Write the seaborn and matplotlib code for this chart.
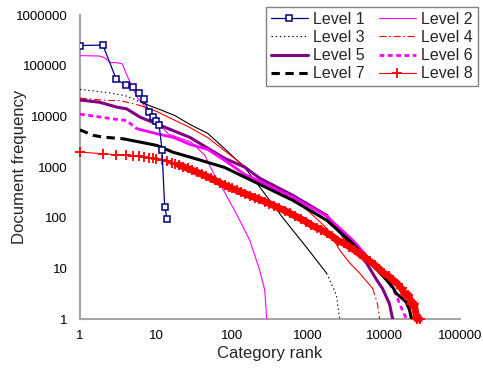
import matplotlib
matplotlib.use("Agg")
import matplotlib.pyplot as plt
import seaborn as sns
from matplotlib.ticker import FixedLocator, FixedFormatter, NullLocator

sns.set_style("white")
plt.rcParams["font.family"] = ["Liberation Sans", "DejaVu Sans"]
plt.rcParams["lines.scale_dashes"] = False

# ---------------- data ----------------
level_names = ["Level 1", "Level 2", "Level 3", "Level 4",
               "Level 5", "Level 6", "Level 7", "Level 8"]

level1_rank = [1, 2, 3, 4, 5, 6, 7, 8, 9, 10, 11, 12, 13, 14]
level1_freq = [250000, 255000, 54000, 41000, 38000, 28500, 21500, 12400,
               9600, 8000, 6600, 2200, 165, 95]

level2_rank = [1, 1.8, 2.1, 2.5, 3, 3.6, 4, 5, 5.8, 6.7, 8.3, 10.6, 14.5,
               29, 44, 59, 80, 99, 114, 171, 232, 270, 286]
level2_freq = [158000, 155000, 144000, 115000, 115000, 109000, 73000, 35000,
               22400, 17900, 11400, 7500, 4500, 3100, 1700, 680, 320, 176,
               120, 36, 9, 3.7, 1]

level3_rank = [1, 2.3, 3.9, 6.5, 10.3, 17.7, 28, 48, 80, 147, 232, 465,
               955, 1760, 2360, 2610]
level3_freq = [34000, 29400, 25700, 18700, 14300, 10400, 6900, 4600, 2300,
               980, 400, 100, 26, 8, 3, 1]

level4_rank = [1, 2.3, 3.4, 6.2, 10.3, 13, 28, 48, 147, 232, 630, 1050,
               1760, 2610, 3500, 4800, 7100, 8200, 8750]
level4_freq = [22900, 20500, 20500, 16300, 12400, 10400, 6000, 3800, 1030,
               570, 252, 128, 62, 23, 13, 8, 4, 2, 1]

level5_rank = [1, 1.8, 3.1, 4.1, 6.2, 10.3, 16.7, 28, 80, 147, 232, 630,
               1760, 3050, 3870, 5900, 7950, 9560, 11800, 13000]
level5_freq = [21000, 19000, 15100, 14100, 9600, 7050, 5250, 3830, 1480,
               995, 600, 276, 111, 39, 27, 12.7, 6, 4, 2, 1]

level6_rank = [1, 1.35, 2.7, 4.1, 5.6, 10.3, 17, 28, 48, 80, 147, 232, 630,
               1760, 3870, 7080, 11800, 14500, 16000, 19800]
level6_freq = [11000, 10400, 8900, 8260, 5700, 4530, 3830, 2790, 2220, 1350,
               715, 521, 252, 107, 36, 13, 5, 3, 2, 1]

level7_rank = [1, 1.5, 2, 3.7, 6.2, 10.3, 16.7, 28, 80, 147, 232, 630, 1760,
               3870, 7080, 10800, 13000, 14500, 19400, 21700, 23000]
level7_freq = [5400, 4200, 3900, 3600, 3100, 2660, 1960, 1570, 980, 630, 454,
               220, 89, 31, 11.6, 5.9, 4.3, 3.2, 2.2, 1.5, 1]

level8_rank = [1, 2, 3, 4, 5, 6, 7, 8, 9, 10, 12, 14, 16, 18, 20, 23, 26, 30,
               35, 40, 46, 53, 60, 70, 80, 90, 100, 115, 130, 150, 170, 200,
               230, 270, 310, 360, 420, 500, 580, 680, 800, 930, 1100, 1300,
               1500, 1800, 2100, 2500, 3000, 3500, 4100, 4800, 5600, 6500,
               7500, 8600, 10000, 11500, 13000, 15000, 17000, 19000, 21000,
               23000, 25000, 27000, 29400]
level8_freq = [1965, 1830, 1745, 1690, 1655, 1620, 1545, 1510, 1475, 1445,
               1360, 1290, 1220, 1160, 1095, 1013, 938, 861, 783, 718, 656,
               594, 542, 484, 438, 400, 378, 346, 322, 295, 273, 248, 230,
               207, 190, 171, 153, 137, 122, 108, 95, 84, 72, 63, 58, 49,
               42.5, 35, 31, 26.7, 22.8, 19, 16.4, 13.9, 11.8, 9.9, 8, 7, 6,
               5, 4, 3, 3, 2, 2, 1, 1]

x_ticks = [1, 10, 100, 1000, 10000, 100000]
x_tick_labels = ["1", "10", "100", "1000", "10000", "100000"]
y_ticks = [1, 10, 100, 1000, 10000, 100000, 1000000]
y_tick_labels = ["1", "10", "100", "1000", "10000", "100000", "1000000"]

# ---------------- figure ----------------
W, H = 483, 373
fig = plt.figure(figsize=(W / 100, H / 100), dpi=100)
ax = fig.add_axes([80 / W, 1 - 319 / H, 380 / W, 304 / H])
ax.set_xscale("log")
ax.set_yscale("log")

DOT = (0, (1, 2))
DASHDOT = (0, (5, 2, 1.2, 2))
DASH6 = (0, (3.5, 2.5))
DASH7 = (0, (6, 4))


def draw(ranks, freqs, segments, label, color, lw, zorder, **kw):
    """segments: list of (start, end, linestyle[, linewidth]) slices."""
    first = None
    for seg in segments:
        s, e, ls = seg[:3]
        width = seg[3] if len(seg) > 3 else lw
        sns.lineplot(x=ranks[s:e], y=freqs[s:e], ax=ax, color=color,
                     linewidth=width, linestyle=ls, sort=False,
                     estimator=None, legend=False, zorder=zorder, **kw)
        line = ax.lines[-1]
        if first is None:
            first = line
            line.set_label(label)
    return first


h = {}
h[1] = draw(level1_rank, level1_freq, [(0, None, "-")], level_names[0],
            "#000080", 0.9, 10, marker="s", markersize=5,
            markerfacecolor="white", markeredgecolor="#000080",
            markeredgewidth=1.1)
h[2] = draw(level2_rank, level2_freq, [(0, None, "-")], level_names[1],
            "#FF00FF", 0.8, 3)
h[3] = draw(level3_rank, level3_freq,
            [(0, 4, DOT), (3, 14, "-"), (13, None, DOT)], level_names[2],
            "black", 0.8, 4)
h[4] = draw(level4_rank, level4_freq,
            [(0, 4, DASHDOT), (3, 17, "-"), (16, None, DASHDOT)],
            level_names[3], "#FF0000", 0.8, 5)
h[5] = draw(level5_rank, level5_freq, [(0, None, "-")], level_names[4],
            "#800080", 2.2, 6)
h[6] = draw(level6_rank, level6_freq,
            [(0, 5, DASH6), (4, 17, "-"), (16, None, DASH6)], level_names[5],
            "#FF00FF", 2.0, 7)
h[7] = draw(level7_rank, level7_freq,
            [(0, 4, DASH7), (3, None, "-")], level_names[6],
            "black", 2.2, 8)
# dense "+" markers in the reference merge into a thick red band
h[8] = draw(level8_rank, level8_freq,
            [(0, 15, "-", 0.8), (14, None, "-", 5.0)], level_names[7],
            "#FF0000", 0.8, 9, marker="+", markersize=7.5,
            markeredgecolor="#FF0000", markeredgewidth=1.3, clip_on=False)

# ---------------- axes styling ----------------
ax.set_xlim(1, 100000)
ax.set_ylim(1, 1000000)
ax.xaxis.set_major_locator(FixedLocator(x_ticks))
ax.xaxis.set_major_formatter(FixedFormatter(x_tick_labels))
ax.xaxis.set_minor_locator(NullLocator())
ax.yaxis.set_major_locator(FixedLocator(y_ticks))
ax.yaxis.set_major_formatter(FixedFormatter(y_tick_labels))
ax.yaxis.set_minor_locator(NullLocator())

axis_gray = "#a6a6a6"
for side in ["top", "right"]:
    ax.spines[side].set_visible(False)
for side in ["left", "bottom"]:
    ax.spines[side].set_color(axis_gray)
    ax.spines[side].set_linewidth(1.5)

ax.tick_params(axis="both", which="major", direction="in", length=4,
               width=1, color=axis_gray, labelsize=9.5, labelcolor="black")
ax.tick_params(axis="x", pad=8)
ax.tick_params(axis="y", pad=9)

ax.set_xlabel("Category rank", fontsize=12, labelpad=3)
ax.set_ylabel("Document frequency", fontsize=12)
ax.yaxis.set_label_coords(-0.139, 0.5)

order = [1, 3, 5, 7, 2, 4, 6, 8]
handles = [h[i] for i in order]
labels = [level_names[i - 1] for i in order]
leg = ax.legend(handles, labels, ncol=2, loc="upper left",
                bbox_to_anchor=(266 / W, 1 - 7 / H),
                bbox_transform=fig.transFigure, fontsize=11.5, frameon=True,
                fancybox=False, edgecolor="#808080", framealpha=1,
                borderaxespad=0, borderpad=0.3, handlelength=2.3,
                handletextpad=0.35, columnspacing=0.9, labelspacing=0.2,
                numpoints=1)
leg.get_frame().set_linewidth(1.0)
leg.set_zorder(20)

fig.savefig("out.png", dpi=100)
